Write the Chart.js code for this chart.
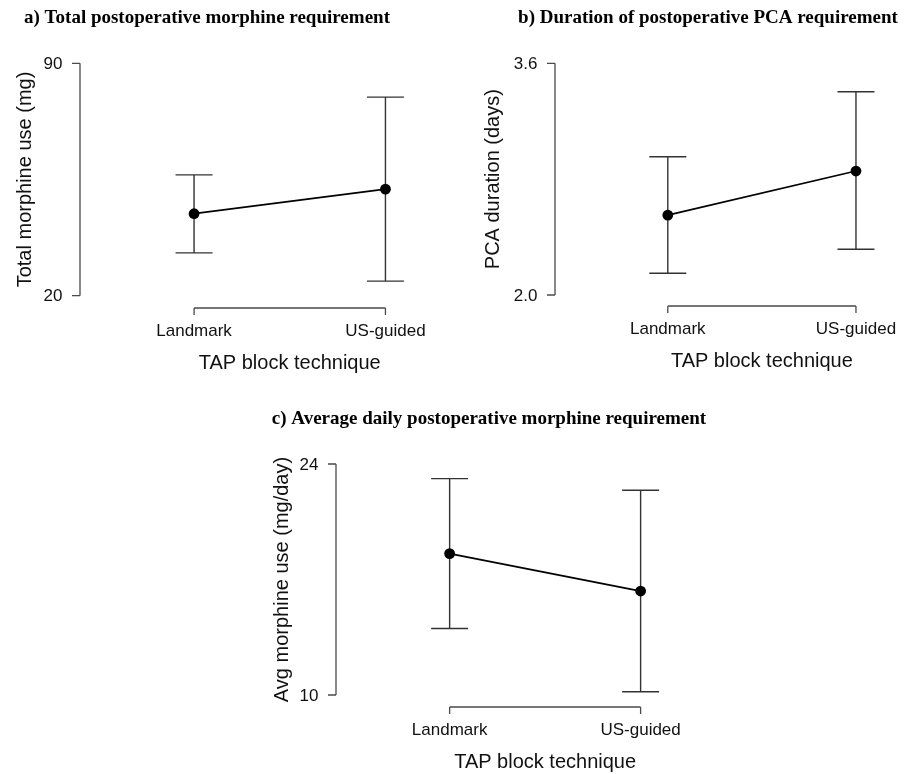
<!DOCTYPE html>
<html>
<head>
<meta charset="utf-8">
<script src="https://cdn.jsdelivr.net/npm/chart.js@4.4.1/dist/chart.umd.min.js"></script>
<style>
  html, body { margin: 0; padding: 0; background: #fff; }
  #wrap { position: relative; width: 909px; height: 774px; }
  canvas { position: absolute; left: 0; top: 0; }
</style>
</head>
<body>
<div id="wrap">
  <canvas id="cA" width="909" height="774"></canvas>
  <canvas id="cB" width="909" height="774"></canvas>
  <canvas id="cC" width="909" height="774"></canvas>
</div>
<script>
// ---- data ----
const categories = ["Landmark", "US-guided"];

const totalMean = [44.7, 52.1];
const totalLow  = [32.9, 24.4];
const totalHigh = [56.4, 79.8];
const totalTicks = [20, 90];
const totalTickLabels = ["20", "90"];

const pcaMean = [2.552, 2.856];
const pcaLow  = [2.15, 2.316];
const pcaHigh = [2.955, 3.404];
const pcaTicks = [2.0, 3.6];
const pcaTickLabels = ["2.0", "3.6"];

const avgMean = [18.57, 16.30];
const avgLow  = [14.03, 10.2];
const avgHigh = [23.11, 22.41];
const avgTicks = [10, 24];
const avgTickLabels = ["10", "24"];

const xTitle = "TAP block technique";

// ---- panel layout (chart area in page pixels) ----
const panels = [
  { id: "cA", title: "a) Total postoperative morphine requirement", titleX: 207, titleY: 18,
    yTitle: "Total morphine use (mg)", yTitleOff: 55,
    mean: totalMean, low: totalLow, high: totalHigh, ticks: totalTicks, tickLabels: totalTickLabels,
    area: { left: 80, top: 51, right: 462, bottom: 308 },
    ymin: 16.3, ymax: 93.7, xmin: 0.404, xmax: 2.4 },
  { id: "cB", title: "b) Duration of postoperative PCA requirement", titleX: 708, titleY: 18,
    yTitle: "PCA duration (days)", yTitleOff: 62,
    mean: pcaMean, low: pcaLow, high: pcaHigh, ticks: pcaTicks, tickLabels: pcaTickLabels,
    area: { left: 555, top: 52, right: 903, bottom: 306 },
    ymin: 1.924, ymax: 3.678, xmin: 0.4005, xmax: 2.25 },
  { id: "cC", title: "c) Average daily postoperative morphine requirement", titleX: 489, titleY: 419,
    yTitle: "Avg morphine use (mg/day)", yTitleOff: 54,
    mean: avgMean, low: avgLow, high: avgHigh, ticks: avgTicks, tickLabels: avgTickLabels,
    area: { left: 336, top: 452, right: 717, bottom: 707 },
    ymin: 9.274, ymax: 24.726, xmin: 0.405, xmax: 2.4 }
];

const AXIS_COLOR = "#4a4a4a";
const BAR_COLOR = "#333333";
const SANS = "'Liberation Sans', Arial, sans-serif";
const SERIF = "'Liberation Serif', 'Times New Roman', serif";

function makePlugin(p) {
  return {
    id: "rstyle_" + p.id,
    beforeDatasetsDraw(chart) {
      const ctx = chart.ctx;
      const xs = chart.scales.x, ys = chart.scales.y;
      ctx.save();
      ctx.strokeStyle = BAR_COLOR;
      ctx.lineWidth = 1.4;
      const cap = 18.5;
      for (let i = 0; i < categories.length; i++) {
        const x = xs.getPixelForValue(i + 1);
        const yl = ys.getPixelForValue(p.low[i]);
        const yh = ys.getPixelForValue(p.high[i]);
        ctx.beginPath();
        ctx.moveTo(x, yl); ctx.lineTo(x, yh);
        ctx.moveTo(x - cap, yl); ctx.lineTo(x + cap, yl);
        ctx.moveTo(x - cap, yh); ctx.lineTo(x + cap, yh);
        ctx.stroke();
      }
      ctx.restore();
    },
    afterDraw(chart) {
      const ctx = chart.ctx;
      const xs = chart.scales.x, ys = chart.scales.y;
      const a = chart.chartArea;
      ctx.save();
      ctx.strokeStyle = AXIS_COLOR;
      ctx.lineWidth = 1.3;
      // y axis
      const yT0 = ys.getPixelForValue(p.ticks[0]);
      const yT1 = ys.getPixelForValue(p.ticks[p.ticks.length - 1]);
      ctx.beginPath();
      ctx.moveTo(a.left, yT0); ctx.lineTo(a.left, yT1);
      p.ticks.forEach(t => {
        const y = ys.getPixelForValue(t);
        ctx.moveTo(a.left - 8, y); ctx.lineTo(a.left, y);
      });
      ctx.stroke();
      ctx.fillStyle = "#111";
      ctx.font = "17px " + SANS;
      ctx.textAlign = "right";
      ctx.textBaseline = "middle";
      p.ticks.forEach((t, i) => {
        ctx.fillText(p.tickLabels[i], a.left - 17.5, ys.getPixelForValue(t) + 1);
      });
      // x axis
      const x0 = xs.getPixelForValue(1), x1 = xs.getPixelForValue(categories.length);
      ctx.beginPath();
      ctx.moveTo(x0, a.bottom); ctx.lineTo(x1, a.bottom);
      for (let i = 0; i < categories.length; i++) {
        const x = xs.getPixelForValue(i + 1);
        ctx.moveTo(x, a.bottom); ctx.lineTo(x, a.bottom + 7);
      }
      ctx.stroke();
      ctx.textAlign = "center";
      for (let i = 0; i < categories.length; i++) {
        ctx.fillText(categories[i], xs.getPixelForValue(i + 1), a.bottom + 23);
      }
      // axis titles
      ctx.font = "20px " + SANS;
      ctx.fillText(xTitle, (x0 + x1) / 2, a.bottom + 55);
      ctx.save();
      ctx.translate(a.left - p.yTitleOff, (yT0 + yT1) / 2);
      ctx.rotate(-Math.PI / 2);
      ctx.fillText(p.yTitle, 0, 0);
      ctx.restore();
      // panel title
      ctx.font = "bold 19px " + SERIF;
      ctx.fillStyle = "#000";
      ctx.fillText(p.title, p.titleX, p.titleY);
      ctx.restore();
    }
  };
}

panels.forEach(p => {
  const W = 909, H = 774;
  new Chart(document.getElementById(p.id), {
    type: "line",
    data: {
      datasets: [{
        data: categories.map((c, i) => ({ x: i + 1, y: p.mean[i] })),
        borderColor: "#000",
        borderWidth: 1.7,
        pointRadius: 5.4,
        pointBackgroundColor: "#000",
        pointBorderColor: "#000",
        pointBorderWidth: 0,
        tension: 0,
        fill: false
      }]
    },
    options: {
      responsive: false,
      animation: false,
      events: [],
      layout: {
        padding: { left: p.area.left, top: p.area.top, right: W - p.area.right, bottom: H - p.area.bottom }
      },
      plugins: { legend: { display: false }, tooltip: { enabled: false }, title: { display: false } },
      scales: {
        x: { type: "linear", min: p.xmin, max: p.xmax, display: false },
        y: { type: "linear", min: p.ymin, max: p.ymax, display: false }
      }
    },
    plugins: [makePlugin(p)]
  });
});
</script>
</body>
</html>
